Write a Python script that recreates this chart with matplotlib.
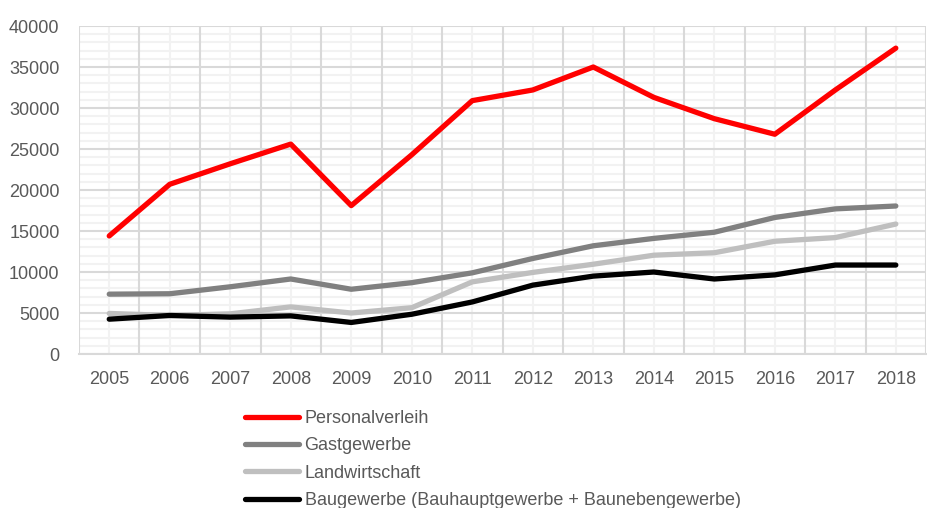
import matplotlib
matplotlib.use("Agg")
import matplotlib.pyplot as plt
from matplotlib.ticker import MultipleLocator
import numpy as np

years = [2005, 2006, 2007, 2008, 2009, 2010, 2011,
         2012, 2013, 2014, 2015, 2016, 2017, 2018]

personalverleih = [14400, 20700, 23200, 25600, 18100, 24300, 30900,
                   32200, 35000, 31300, 28700, 26800, 32200, 37300]
gastgewerbe = [7300, 7350, 8200, 9150, 7900, 8700, 9900,
               11650, 13200, 14100, 14850, 16650, 17700, 18050]
landwirtschaft = [4950, 4700, 4900, 5750, 5000, 5650, 8800,
                  9950, 10950, 12050, 12350, 13750, 14200, 15850]
baugewerbe = [4250, 4700, 4500, 4650, 3850, 4850, 6350,
              8400, 9500, 10000, 9150, 9650, 10850, 10850]

series = [
    ("Personalverleih", personalverleih, "#ff0000"),
    ("Gastgewerbe", gastgewerbe, "#808080"),
    ("Landwirtschaft", landwirtschaft, "#bfbfbf"),
    ("Baugewerbe (Bauhauptgewerbe + Baunebengewerbe)", baugewerbe, "#000000"),
]

plt.rcParams['font.family'] = ['Liberation Sans', 'DejaVu Sans']
text_col = '#595959'
grid_dark = '#d9d9d9'
grid_light = '#f2f2f2'

fig = plt.figure(figsize=(9.27, 5.08), dpi=100)
ax = fig.add_axes([0.0852, 0.3031, 0.9138, 0.6457])

x = np.arange(len(years))
for label, vals, col in series:
    ax.plot(x, vals, color=col, lw=3.8, label=label, solid_capstyle='round',
            solid_joinstyle='round', zorder=3)

ax.set_xlim(-0.5, len(years) - 0.5)
ax.set_ylim(0, 40000)

ax.set_xticks(x)
ax.set_xticklabels([str(y) for y in years])
ax.yaxis.set_major_locator(MultipleLocator(5000))
ax.yaxis.set_minor_locator(MultipleLocator(1000))

# light lines first, dark ones on top
ax.grid(which='major', axis='x', color=grid_light, lw=1.5)
ax.grid(which='minor', axis='y', color=grid_light, lw=1.5)
ax.grid(which='major', axis='y', color=grid_dark, lw=1.5)
ax.xaxis.set_zorder(0.3)
ax.yaxis.set_zorder(0.5)
# category boundaries
ax.vlines(np.arange(-0.5, len(years), 1.0), 0, 40000, color=grid_dark,
          lw=1.5, zorder=0.7)

for s in ['top', 'right', 'left']:
    ax.spines[s].set_visible(False)
ax.spines['bottom'].set_color(grid_dark)
ax.spines['bottom'].set_linewidth(1.5)

ax.tick_params(axis='both', which='both', length=0, labelsize=13,
               labelcolor=text_col)
ax.tick_params(axis='x', pad=12)
ax.tick_params(axis='y', pad=14)

fig.legend(loc='upper left', bbox_to_anchor=(245 / 927, 1 - 410 / 508),
           frameon=False, fontsize=13, labelcolor=text_col, handlelength=3.0,
           handletextpad=0.3, labelspacing=0.57, borderpad=0, borderaxespad=0)

fig.savefig("out.png", dpi=100)
